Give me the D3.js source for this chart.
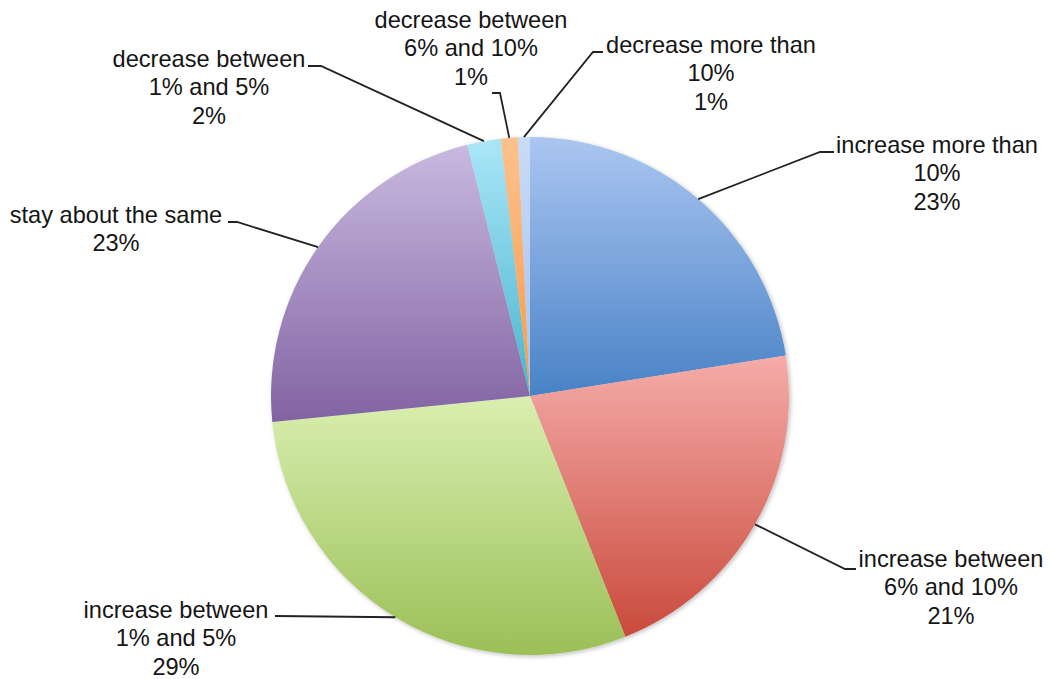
<!DOCTYPE html>
<html>
<head>
<meta charset="utf-8">
<script src="https://cdn.jsdelivr.net/npm/d3@7/dist/d3.min.js"></script>
<style>
  html, body { margin: 0; padding: 0; background: #ffffff; }
  svg { display: block; }
  text { font-family: "Liberation Sans", Arial, sans-serif; }
</style>
</head>
<body>
<svg id="chart" width="1051" height="679"></svg>
<script>
// ---- data ----
const categories = [
  "increase more than 10%",
  "increase between 6% and 10%",
  "increase between 1% and 5%",
  "stay about the same",
  "decrease between 1% and 5%",
  "decrease between 6% and 10%",
  "decrease more than 10%"
];
const values = [22.5, 21.5, 29.4, 22.7, 2.1, 1.05, 0.75];
const percentLabels = ["23%", "21%", "29%", "23%", "2%", "1%", "1%"];

// ---- styles / layout ----
const gradTop    = ["#abc6f1", "#f5aca9", "#d9efb0", "#c9b9e0", "#abe6f8", "#fcc28d", "#c8dbf7"];
const gradBottom = ["#4882c6", "#c94a3c", "#9cbf57", "#8163a2", "#47b4cd", "#f79a45", "#a6c2ec"];
const labelWrap = [
  ["increase more than", "10%"],
  ["increase between", "6% and 10%"],
  ["increase between", "1% and 5%"],
  ["stay about the same"],
  ["decrease between", "1% and 5%"],
  ["decrease between", "6% and 10%"],
  ["decrease more than", "10%"]
];
// label centre x, first baseline y, leader elbow, leader end
const labelLayout = [
  {cx: 937, y: 153, elbow: [820, 152], end: [834, 152]},
  {cx: 951, y: 567, elbow: [845, 569], end: [856, 569]},
  {cx: 176, y: 618, elbow: null,        end: [275, 616]},
  {cx: 116, y: 223, elbow: [237, 222], end: [228, 222]},
  {cx: 209, y: 67,  elbow: [321, 66],  end: [308, 66]},
  {cx: 471, y: 28,  elbow: [500, 93],  end: [492, 93]},
  {cx: 711, y: 53,  elbow: [593, 52],  end: [603, 52]}
];
const cx = 530, cy = 396, R = 259, lineH = 28.3, fontSize = 23.6;

const svg = d3.select("#chart");
const defs = svg.append("defs");

categories.forEach((c, i) => {
  const g = defs.append("linearGradient")
    .attr("id", "grad" + i)
    .attr("x1", 0).attr("y1", 0).attr("x2", 0).attr("y2", 1);
  g.append("stop").attr("offset", "0%").attr("stop-color", gradTop[i]);
  g.append("stop").attr("offset", "100%").attr("stop-color", gradBottom[i]);
});

const shadow = defs.append("filter").attr("id", "shadow")
  .attr("x", "-10%").attr("y", "-10%").attr("width", "120%").attr("height", "120%");
shadow.append("feDropShadow")
  .attr("dx", 1.5).attr("dy", 1.5).attr("stdDeviation", 2)
  .attr("flood-color", "#000").attr("flood-opacity", 0.25);

const pie = d3.pie().sort(null).value(d => d.value);
const arcs = pie(categories.map((c, i) => ({name: c, value: values[i], idx: i})));
const arc = d3.arc().innerRadius(0).outerRadius(R);

const gPie = svg.append("g")
  .attr("transform", `translate(${cx},${cy})`)
  .attr("filter", "url(#shadow)");

gPie.selectAll("path.slice")
  .data(arcs)
  .join("path")
  .attr("class", "slice")
  .attr("d", arc)
  .attr("fill", d => `url(#grad${d.data.idx})`);

// leader lines
const gLines = svg.append("g");
arcs.forEach((d, i) => {
  const mid = (d.startAngle + d.endAngle) / 2;
  const p0 = [cx + R * Math.sin(mid), cy - R * Math.cos(mid)];
  const L = labelLayout[i];
  const pts = [p0];
  if (L.elbow) pts.push(L.elbow);
  pts.push(L.end);
  gLines.append("path")
    .attr("d", d3.line()(pts))
    .attr("fill", "none")
    .attr("stroke", "#222")
    .attr("stroke-width", 1.8);
});

// labels
const gLabels = svg.append("g");
arcs.forEach((d, i) => {
  const L = labelLayout[i];
  const lines = labelWrap[i].concat([percentLabels[i]]);
  const t = gLabels.append("text")
    .attr("text-anchor", "middle")
    .attr("font-size", fontSize)
    .attr("fill", "#151515");
  lines.forEach((ln, k) => {
    t.append("tspan").attr("x", L.cx).attr("y", L.y + k * lineH).text(ln);
  });
});
</script>
</body>
</html>
